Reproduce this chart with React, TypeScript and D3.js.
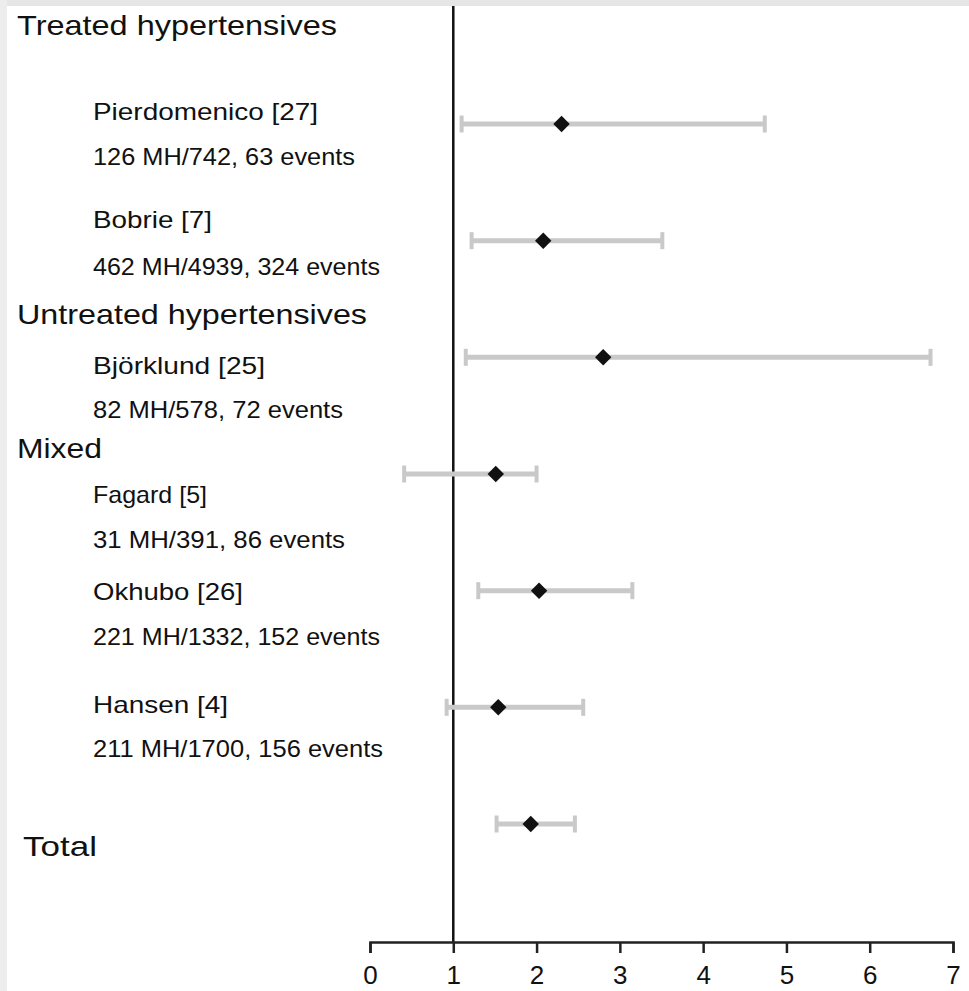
import * as d3 from 'd3';
import { useRef, useEffect } from 'react';

// data
const studies = ['Pierdomenico [27]', 'Bobrie [7]', 'Björklund [25]', 'Fagard [5]', 'Okhubo [26]', 'Hansen [4]', 'Total'];
const details = ['126 MH/742, 63 events', '462 MH/4939, 324 events', '82 MH/578, 72 events', '31 MH/391, 86 events', '221 MH/1332, 152 events', '211 MH/1700, 156 events', ''];
const hazard = [2.3, 2.08, 2.8, 1.51, 2.03, 1.54, 1.93];
const lower = [1.1, 1.22, 1.15, 0.41, 1.3, 0.92, 1.52];
const upper = [4.74, 3.51, 6.73, 2.0, 3.15, 2.56, 2.46];
const groups = ['Treated hypertensives', 'Untreated hypertensives', 'Mixed'];
const tickValues = [0, 1, 2, 3, 4, 5, 6, 7];

// text layout (baselines and measured widths)
const groupY = [35, 324, 458];
const groupW = [320, 350, 85];
const nameY = [120, 228, 374, 503, 600, 713, 856];
const nameW = [225, 119, 172, 114, 150, 135, 74];
const detailY = [165, 275, 418, 548, 645, 757];
const detailW = [262, 287, 250, 252, 287, 290];

const W = 969;
const H = 991;
const FONT = '"Liberation Sans", Arial, Helvetica, sans-serif';
const axisY = 942;

export default function ForestPlot() {
  const axisRef = useRef(null);

  const x = d3.scaleLinear().domain([0, 7]).range([370, 953]);
  const y = d3.scalePoint().domain(studies).range([124, 824]);
  const diamond = d3.symbol(d3.symbolSquare, 135)();

  useEffect(() => {
    const g = d3.select(axisRef.current);
    g.selectAll('*').remove();
    g.call(
      d3.axisBottom(x)
        .tickValues(tickValues)
        .tickSize(11)
        .tickSizeOuter(11)
        .tickPadding(13)
        .tickFormat(d3.format('d'))
    );
    g.select('.domain').attr('stroke', '#222').attr('stroke-width', 2.5);
    g.selectAll('.tick line').attr('stroke', '#222').attr('stroke-width', 2.5);
    g.selectAll('.tick text')
      .attr('font-size', 26)
      .attr('font-family', FONT)
      .attr('fill', '#111');
  }, []);

  return (
    <div style={{ position: 'absolute', left: 0, top: 0 }}>
      <svg width={W} height={H} style={{ display: 'block' }}>
        <rect width={W} height={H} fill="#fff" />
        <rect width={W} height={6} fill="#e6e6e6" />
        <rect width={7} height={H} fill="#ededed" />

        {/* group headers */}
        {groups.map((t, i) => (
          <text key={t} x={17} y={groupY[i]} fontSize={28} fontFamily={FONT} fill="#111"
            textLength={groupW[i]} lengthAdjust="spacingAndGlyphs">{t}</text>
        ))}

        {/* study labels */}
        {studies.map((s, i) => {
          const isTotal = i === studies.length - 1;
          return (
            <g key={s}>
              <text x={isTotal ? 23 : 93} y={nameY[i]} fontSize={isTotal ? 28 : 24} fontFamily={FONT}
                fill="#111" textLength={nameW[i]} lengthAdjust="spacingAndGlyphs">{s}</text>
              {details[i] && (
                <text x={93} y={detailY[i]} fontSize={24} fontFamily={FONT} fill="#111"
                  textLength={detailW[i]} lengthAdjust="spacingAndGlyphs">{details[i]}</text>
              )}
            </g>
          );
        })}

        {/* line of no effect */}
        <line x1={x(1)} x2={x(1)} y1={6} y2={axisY} stroke="#111" strokeWidth={2.5} />

        {/* confidence intervals */}
        {studies.map((s, i) => {
          const cy = y(s) as number;
          return (
            <g key={'ci' + s}>
              <line x1={x(lower[i])} x2={x(upper[i])} y1={cy} y2={cy} stroke="#c9c9c9" strokeWidth={5} />
              <line x1={x(lower[i])} x2={x(lower[i])} y1={cy - 8.5} y2={cy + 8.5} stroke="#c9c9c9" strokeWidth={4} />
              <line x1={x(upper[i])} x2={x(upper[i])} y1={cy - 8.5} y2={cy + 8.5} stroke="#c9c9c9" strokeWidth={4} />
              <path d={diamond} transform={`translate(${x(hazard[i])},${cy}) rotate(45)`} fill="#111" />
            </g>
          );
        })}

        <g ref={axisRef} transform={`translate(0,${axisY})`} />
      </svg>
    </div>
  );
}
